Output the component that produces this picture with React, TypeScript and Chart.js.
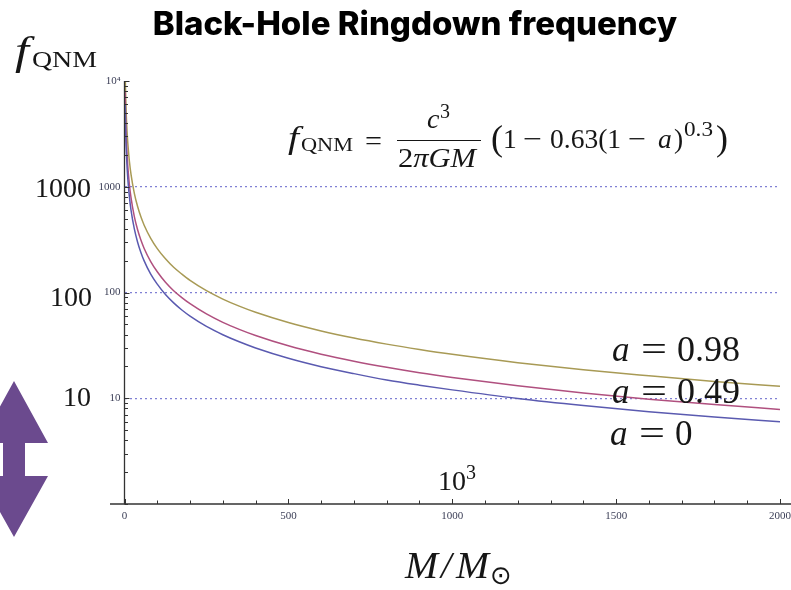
import React, { useEffect, useRef } from "react";
import { Chart, registerables } from "chart.js";

Chart.register(...registerables);

const masses = [2, 3, 4, 5, 6, 8, 10, 15, 20, 30, 40, 50, 60, 80, 100, 125, 150, 175, 200, 250, 300, 350, 400, 500, 600, 700, 800, 900, 1000, 1200, 1400, 1600, 1800, 2000];
const spin0 = [5978, 3985, 2989, 2391, 1993, 1494, 1196, 797, 598, 399, 299, 239, 199, 149, 120, 95.6, 79.7, 68.3, 59.8, 47.8, 39.9, 34.2, 29.9, 23.9, 19.9, 17.1, 14.9, 13.3, 12, 9.96, 8.54, 7.47, 6.64, 5.98];
const spin049 = [7835, 5223, 3918, 3134, 2612, 1959, 1567, 1045, 784, 522, 392, 313, 261, 196, 157, 125, 104, 89.5, 78.4, 62.7, 52.2, 44.8, 39.2, 31.3, 26.1, 22.4, 19.6, 17.4, 15.7, 13.1, 11.2, 9.79, 8.71, 7.84];
const spin098 = [13000, 8667, 6500, 5200, 4333, 3250, 2600, 1733, 1300, 867, 650, 520, 433, 325, 260, 208, 173, 149, 130, 104, 86.7, 74.3, 65, 52, 43.3, 37.1, 32.5, 28.9, 26, 21.7, 18.6, 16.3, 14.4, 13];
const seriesNames = ["a = 0", "a = 0.49", "a = 0.98"];
const seriesColors = ["#5a5ab0", "#b0507f", "#a89a55"];
const xMajorTicks = [0, 500, 1000, 1500, 2000];
const yGridTicks = [10, 100, 1000];
const yTickLabels: Record<number, string> = { 10: "10", 100: "100", 1000: "1000", 10000: "10⁴" };
const chartTitle = "Black-Hole Ringdown frequency";

const axisColor = "#333333";
const labelColor = "#3d4058";
const tickFont = { family: "'Liberation Serif', serif", size: 11 };

const axisExtras = {
  id: "axisExtras",
  afterDatasetsDraw(chart: any) {
    const { ctx, chartArea, scales } = chart;
    const { x, y } = scales;
    ctx.save();
    ctx.strokeStyle = axisColor;
    ctx.lineWidth = 1.3;
    ctx.beginPath();
    ctx.moveTo(110, chartArea.bottom);
    ctx.lineTo(791, chartArea.bottom);
    ctx.moveTo(chartArea.left, chartArea.top);
    ctx.lineTo(chartArea.left, chartArea.bottom);
    ctx.stroke();
    ctx.lineWidth = 1;
    ctx.beginPath();
    for (const t of x.ticks) {
      const px = Math.round(x.getPixelForValue(t.value)) + 0.5;
      const len = xMajorTicks.includes(t.value) ? 5 : 3.5;
      ctx.moveTo(px, chartArea.bottom);
      ctx.lineTo(px, chartArea.bottom - len);
    }
    for (const t of y.ticks) {
      const py = Math.round(y.getPixelForValue(t.value)) + 0.5;
      const major = yTickLabels[t.value] !== undefined;
      ctx.moveTo(chartArea.left, py);
      ctx.lineTo(chartArea.left + (major ? 5 : 3.5), py);
    }
    ctx.stroke();
    ctx.restore();
  },
};

const serif = "'Liberation Serif', serif";
const ink = "#161616";

function T(props: { x: number; y: number; s: number; i?: boolean; f?: string; w?: number; children: React.ReactNode }) {
  const fit = props.w ? { textLength: props.w, lengthAdjust: "spacingAndGlyphs" as const } : {};
  return (
    <text x={props.x} y={props.y} fontSize={props.s} fontFamily={props.f || serif} fontStyle={props.i ? "italic" : "normal"} fill={ink} {...fit}>
      {props.children}
    </text>
  );
}

export default function App() {
  const ref = useRef<HTMLCanvasElement>(null);
  useEffect(() => {
    const series = [spin0, spin049, spin098];
    const chart = new Chart(ref.current!, {
      type: "line",
      data: {
        labels: masses,
        datasets: series.map((s, i) => ({
          label: seriesNames[i],
          data: s.map((v, k) => ({ x: masses[k], y: v })),
          borderColor: seriesColors[i],
          borderWidth: 1.5,
          pointRadius: 0,
          cubicInterpolationMode: "monotone" as const,
        })),
      },
      plugins: [axisExtras],
      options: {
        responsive: false,
        animation: false,
        layout: { padding: { left: 50, right: 11, top: 0, bottom: 0 } },
        plugins: {
          legend: { display: false },
          tooltip: { enabled: false },
          title: {
            display: true,
            text: chartTitle,
            color: "#000000",
            font: { family: "Inter, 'Liberation Sans', sans-serif", size: 33, weight: "800" },
            padding: { top: 5, bottom: 36.4 },
          },
        },
        scales: {
          x: {
            type: "linear",
            min: 0,
            max: 2000,
            afterFit: (s: any) => { s.height = 86; s.paddingRight = 0; s.paddingLeft = 0; },
            afterBuildTicks: (s: any) => {
              const out = [];
              for (let v = 0; v <= 2000; v += 100) out.push({ value: v });
              s.ticks = out;
            },
            ticks: {
              autoSkip: false,
              maxRotation: 0,
              padding: 6,
              color: labelColor,
              font: tickFont,
              callback: (v: any) => (xMajorTicks.includes(Number(v)) ? String(v) : ""),
            },
            grid: { display: false, drawTicks: false },
            border: { display: false },
          },
          y: {
            type: "logarithmic",
            min: 1,
            max: 10000,
            afterFit: (s: any) => { s.width = 74.5; },
            afterBuildTicks: (s: any) => {
              const out = [];
              for (const d of [1, 10, 100, 1000]) for (let m = 1; m <= 9; m++) out.push({ value: d * m });
              out.push({ value: 10000 });
              s.ticks = out;
            },
            ticks: {
              autoSkip: false,
              padding: 4,
              color: labelColor,
              font: tickFont,
              callback: (v: any) => yTickLabels[Number(v)] || "",
            },
            grid: {
              drawTicks: false,
              lineWidth: 1.3,
              color: (c: any) => (yGridTicks.includes(c.tick?.value) ? "#8080d4" : "rgba(0,0,0,0)"),
            },
            border: { display: false, dash: [2, 3] },
          },
        },
      },
    } as any);
    return () => chart.destroy();
  }, []);

  return (
    <div style={{ position: "absolute", left: 0, top: 0, width: 791, height: 590, overflow: "hidden", background: "#fff" }}>
      <canvas ref={ref} width={791} height={590} style={{ position: "absolute", left: 0, top: 0 }} />
      <svg width={791} height={590} style={{ position: "absolute", left: 0, top: 0, pointerEvents: "none" }}>
        <polygon points="14,381 48,443 25,443 25,476 48,476 14,537 -20,476 3,476 3,443 -20,443" fill="#6b4a8e" />

        <T x={15} y={64} s={40}  i w={14}>f</T>
        <T x={32} y={67} s={23} w={65}>QNM</T>
        <T x={35} y={197} s={28}>1000</T>
        <T x={50} y={306} s={28}>100</T>
        <T x={63} y={406} s={28}>10</T>

        <T x={288} y={148} s={32} i w={11}>f</T>
        <T x={301} y={151} s={19} w={52}>QNM</T>
        <T x={365} y={150} s={28} w={17}>=</T>
        <T x={427} y={128} s={28} i>c</T>
        <T x={440} y={118} s={20}>3</T>
        <line x1={397} x2={481} y1={140.5} y2={140.5} stroke={ink} strokeWidth={1} />
        <T x={398} y={167} s={28} w={78}>2<tspan fontStyle="italic">πGM</tspan></T>
        <T x={491} y={150} s={36}>(</T>
        <T x={503} y={148} s={27.5}>1</T>
        <T x={523} y={148} s={27.5} w={19}>−</T>
        <T x={550} y={148} s={27.5}>0.63(1</T>
        <T x={628} y={148} s={27.5} w={18}>−</T>
        <T x={658} y={148} s={27.5} i>a</T>
        <T x={674} y={148} s={27.5}>)</T>
        <T x={684} y={136} s={20} w={29}>0.3</T>
        <T x={716} y={150} s={36}>)</T>

        <T x={612} y={361} s={35} i>a</T>
        <T x={641} y={361} s={35} w={26}>=</T>
        <T x={677} y={361} s={35} w={63}>0.98</T>
        <T x={612} y={403} s={35} i>a</T>
        <T x={641} y={403} s={35} w={26}>=</T>
        <T x={677} y={403} s={35} w={63}>0.49</T>
        <T x={610} y={445} s={35} i>a</T>
        <T x={639} y={445} s={35} w={26}>=</T>
        <T x={675} y={445} s={35}>0</T>

        <T x={438} y={490} s={28}>10</T>
        <T x={466} y={479} s={20}>3</T>

        <T x={405} y={578} s={38} i w={33}>M</T>
        <T x={441} y={578} s={38} i>/</T>
        <T x={456} y={578} s={38} i w={33}>M</T>
        <T x={490} y={584} s={26} f="'DejaVu Sans', sans-serif">⊙</T>
      </svg>
    </div>
  );
}
